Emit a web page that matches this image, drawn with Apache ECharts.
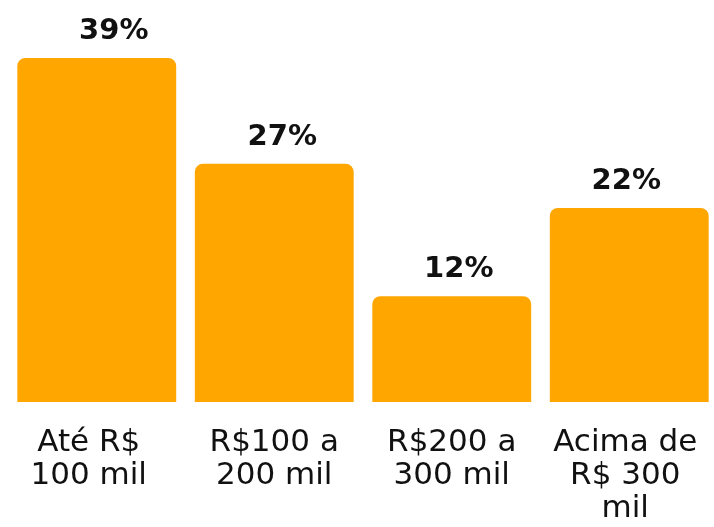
<!DOCTYPE html>
<html>
<head>
<meta charset="utf-8">
<script src="https://cdn.jsdelivr.net/npm/echarts@6/dist/echarts.min.js"></script>
<style>
  html, body { margin: 0; padding: 0; background: #fff; overflow: hidden; }
  /* a touch wider than the window: the last bar runs to the right edge */
  #chart { width: 718px; height: 527px; }
</style>
</head>
<body>
<div id="chart"></div>
<script>
const categories = ['Até R$\n100 mil', 'R$100 a\n200 mil', 'R$200 a\n300 mil', 'Acima de\nR$ 300\nmil'];
const shares = [39, 27, 12, 22];

// the source nudges a few labels sideways
const valueLabelShift = [17, 8, 7, -3];
const categoryLabelShift = [-8, 0, 0, -4];

const chart = echarts.init(document.getElementById('chart'));

chart.setOption({
  animation: false,
  grid: { left: 8, top: 5, right: 0, bottom: 125 },
  xAxis: {
    type: 'category',
    data: categories.map((name, i) => ({
      value: name,
      textStyle: {
        padding: categoryLabelShift[i] < 0
          ? [0, -2 * categoryLabelShift[i], 0, 0]
          : [0, 0, 0, 2 * categoryLabelShift[i]]
      }
    })),
    axisLine: { show: false },
    axisTick: { show: false },
    axisLabel: {
      interval: 0,
      margin: 24,
      color: '#111',
      fontFamily: 'DejaVu Sans',
      fontSize: 31,
      lineHeight: 33,
      verticalAlign: 'top'
    }
  },
  yAxis: {
    type: 'value',
    min: 0,
    max: 45,
    show: false
  },
  series: [
    {
      type: 'bar',
      data: shares.map((v, i) => ({ value: v, label: { offset: [valueLabelShift[i], 0] } })),
      barCategoryGap: '10.5%',
      itemStyle: { color: '#ffa600', borderRadius: [8, 8, 0, 0] },
      label: {
        show: true,
        position: 'top',
        distance: 12,
        formatter: '{c}%',
        color: '#111',
        fontFamily: 'DejaVu Sans',
        fontWeight: 'bold',
        fontSize: 29
      }
    }
  ]
});
</script>
</body>
</html>
